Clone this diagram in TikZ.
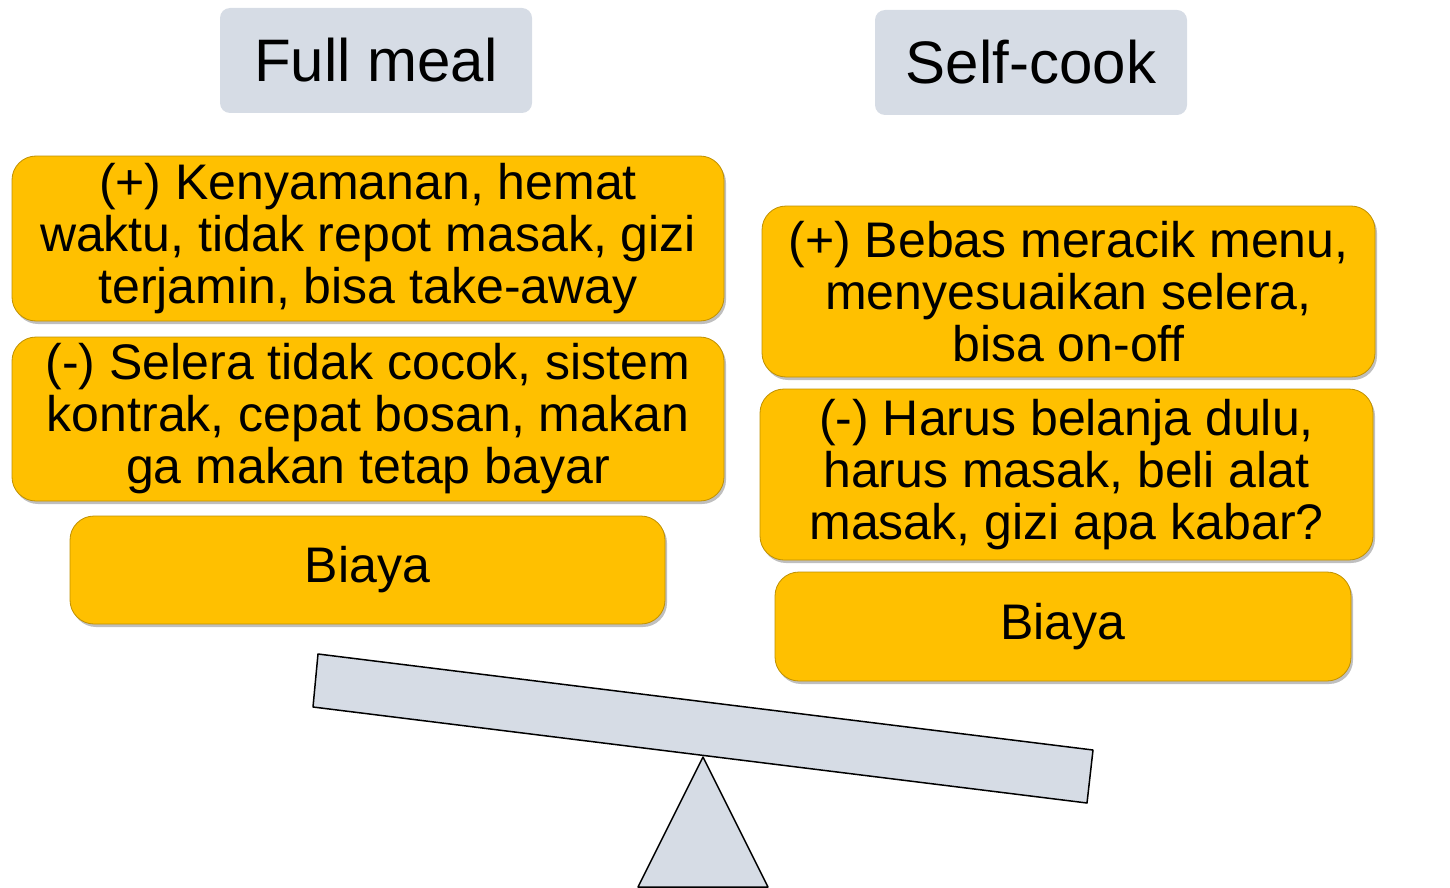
\documentclass[tikz,border=0pt]{standalone}
\usepackage{fontspec}
\setmainfont{Liberation Sans}
\usetikzlibrary{shadows}
\definecolor{abu}{HTML}{D6DCE5}
\definecolor{emas}{HTML}{FFC000}
\definecolor{garis}{HTML}{BF9000}
\tikzset{
  judul/.style={rectangle, rounded corners=10pt, fill=abu, inner sep=0pt,
    minimum width=312pt, minimum height=105pt, font=\fontsize{60}{66}\selectfont},
  kotak/.style={rectangle, rounded corners=24pt, fill=emas, draw=garis, line width=0.8pt,
    inner sep=0pt, align=center, font=\fontsize{50}{52}\selectfont,
    drop shadow={shadow xshift=2pt, shadow yshift=-3pt, opacity=0.25, fill=black}},
}
\begin{document}
\begin{tikzpicture}[x=1pt, y=-1pt]
    \useasboundingbox (0,0) rectangle (1450,888);

    % jungkat-jungkit
    \draw[fill=abu, line width=1.5pt, line join=round] (318,654) -- (1093,750) -- (1087,803) -- (313,707) -- cycle;
    \draw[fill=abu, line width=1.5pt, line join=round] (703,757) -- (768,887) -- (638,887) -- cycle;

    % kiri: full meal
    \node[judul] (fm) at (376,60.5) {Full meal};
    \node[kotak, minimum width=712pt, minimum height=165pt] (fmPlus) at (368,238.5)
        {(+) Kenyamanan, hemat\\waktu, tidak repot masak, gizi\\terjamin, bisa take-away};
    \node[kotak, minimum width=712pt, minimum height=164pt] (fmMin) at (368,419)
        {(-) Selera tidak cocok, sistem\\kontrak, cepat bosan, makan\\ga makan tetap bayar};
    \node[kotak, minimum width=595pt, minimum height=108pt] (fmBiaya) at (367.5,570) {Biaya};

    % kanan: self-cook
    \node[judul] (sc) at (1031,62.5) {Self-cook};
    \node[kotak, minimum width=613pt, minimum height=171pt] (scPlus) at (1068.5,291.5)
        {(+) Bebas meracik menu,\\menyesuaikan selera,\\bisa on-off};
    \node[kotak, minimum width=613pt, minimum height=171pt] (scMin) at (1066.5,474.5)
        {(-) Harus belanja dulu,\\harus masak, beli alat\\masak, gizi apa kabar?};
    \node[kotak, minimum width=576pt, minimum height=109pt] (scBiaya) at (1063,626.5) {Biaya};
\end{tikzpicture}
\end{document}
